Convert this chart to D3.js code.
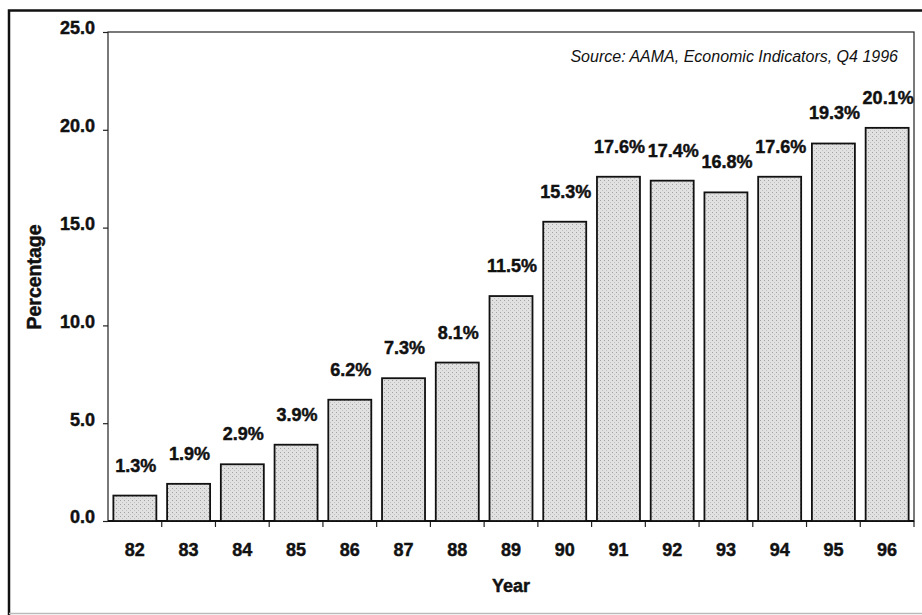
<!DOCTYPE html>
<html>
<head>
<meta charset="utf-8">
<script src="https://cdn.jsdelivr.net/npm/d3@7"></script>
<style>
  html, body { margin: 0; padding: 0; background: #fff; }
  svg { display: block; font-family: "Liberation Sans", Arial, sans-serif; }
  .heavy { font-weight: bold; fill: #111; stroke: #111; stroke-width: 0.45px; }
</style>
</head>
<body>
<svg id="chart" width="922" height="615"></svg>
<script>
// Year labels (two-digit) and share values in percent
const years = ["82","83","84","85","86","87","88","89","90","91","92","93","94","95","96"];
const shares = [1.3, 1.9, 2.9, 3.9, 6.2, 7.3, 8.1, 11.5, 15.3, 17.6, 17.4, 16.8, 17.6, 19.3, 20.1];
const yTicks = [0, 5, 10, 15, 20, 25];
const sourceNote = "Source: AAMA, Economic Indicators, Q4 1996";
const xTitle = "Year";
const yTitle = "Percentage";

const svg = d3.select("#chart");
const plot = { left: 108, top: 32, right: 914, bottom: 521 };

// Outer frame
svg.append("path")
  .attr("d", "M9,616 L9,10.5 L924,10.5")
  .attr("fill", "none").attr("stroke", "#111").attr("stroke-width", 2.5);
svg.append("line")
  .attr("x1", 9).attr("x2", 922).attr("y1", 613.5).attr("y2", 613.5)
  .attr("stroke", "#bbb").attr("stroke-width", 1.5);

// Stipple fill for bars
const defs = svg.append("defs");
const pat = defs.append("pattern")
  .attr("id", "stipple").attr("patternUnits", "userSpaceOnUse")
  .attr("width", 4).attr("height", 4);
pat.append("rect").attr("width", 4).attr("height", 4).attr("fill", "#e1e1e1");
pat.append("rect").attr("x", 0).attr("y", 0).attr("width", 1).attr("height", 1).attr("fill", "#a0a0a0");
pat.append("rect").attr("x", 2).attr("y", 2).attr("width", 1).attr("height", 1).attr("fill", "#c0c0c0");

const x = d3.scaleBand()
  .domain(years)
  .range([plot.left, plot.right])
  .paddingInner(0.2)
  .paddingOuter(0.1);

const y = d3.scaleLinear()
  .domain([0, 25])
  .range([plot.bottom, plot.top]);

// Plot frame
svg.append("rect")
  .attr("x", plot.left).attr("y", plot.top)
  .attr("width", plot.right - plot.left).attr("height", plot.bottom - plot.top)
  .attr("fill", "none").attr("stroke", "#222").attr("stroke-width", 1.2);

// Y axis
const yAxis = svg.append("g")
  .attr("transform", `translate(${plot.left},0)`)
  .call(d3.axisLeft(y).tickValues(yTicks).tickFormat(d3.format(".1f")).tickSize(5).tickPadding(8));
yAxis.select(".domain").remove();
yAxis.selectAll(".tick line").attr("stroke", "#222").attr("stroke-width", 1.2);
yAxis.selectAll(".tick text")
  .attr("class", "heavy")
  .attr("font-size", 18)
  .attr("dy", "0.1em");

// X axis: ticks sit on category boundaries, labels at band centres
const step = x.step();
const boundaries = years.map(d => x(d) - step * x.paddingInner() / 2).slice(1)
  .concat([plot.right]);
svg.append("g").selectAll("line")
  .data(boundaries)
  .join("line")
  .attr("x1", d => d).attr("x2", d => d)
  .attr("y1", plot.bottom).attr("y2", plot.bottom + 6)
  .attr("stroke", "#222").attr("stroke-width", 1.2);

svg.append("line")
  .attr("x1", plot.left).attr("x2", plot.right)
  .attr("y1", plot.bottom).attr("y2", plot.bottom)
  .attr("stroke", "#111").attr("stroke-width", 1.8);

svg.append("g").selectAll("text")
  .data(years)
  .join("text")
  .attr("class", "heavy")
  .attr("x", d => x(d) + x.bandwidth() / 2)
  .attr("y", 556)
  .attr("text-anchor", "middle")
  .attr("font-size", 18)
  .text(d => d);

// Bars
svg.append("g").selectAll("rect")
  .data(years.map((yr, i) => ({ yr, v: shares[i] })))
  .join("rect")
  .attr("x", d => x(d.yr))
  .attr("y", d => y(d.v))
  .attr("width", x.bandwidth())
  .attr("height", d => y(0) - y(d.v))
  .attr("fill", "url(#stipple)")
  .attr("stroke", "#111").attr("stroke-width", 1.8);

// Value labels
svg.append("g").selectAll("text")
  .data(years.map((yr, i) => ({ yr, v: shares[i] })))
  .join("text")
  .attr("class", "heavy")
  .attr("x", d => x(d.yr) + x.bandwidth() / 2 + 1)
  .attr("y", d => y(d.v) - 24)
  .attr("text-anchor", "middle")
  .attr("font-size", 18)
  .text(d => d.v.toFixed(1) + "%");

// Source note
svg.append("text")
  .attr("x", 898).attr("y", 62)
  .attr("text-anchor", "end")
  .attr("font-size", 16).attr("font-style", "italic").attr("fill", "#111")
  .text(sourceNote);

// Axis titles
svg.append("text")
  .attr("class", "heavy")
  .attr("x", 511).attr("y", 592)
  .attr("text-anchor", "middle")
  .attr("font-size", 18)
  .text(xTitle);

svg.append("text")
  .attr("class", "heavy")
  .attr("transform", "translate(41,277) rotate(-90)")
  .attr("text-anchor", "middle")
  .attr("font-size", 19.5)
  .text(yTitle);
</script>
</body>
</html>
